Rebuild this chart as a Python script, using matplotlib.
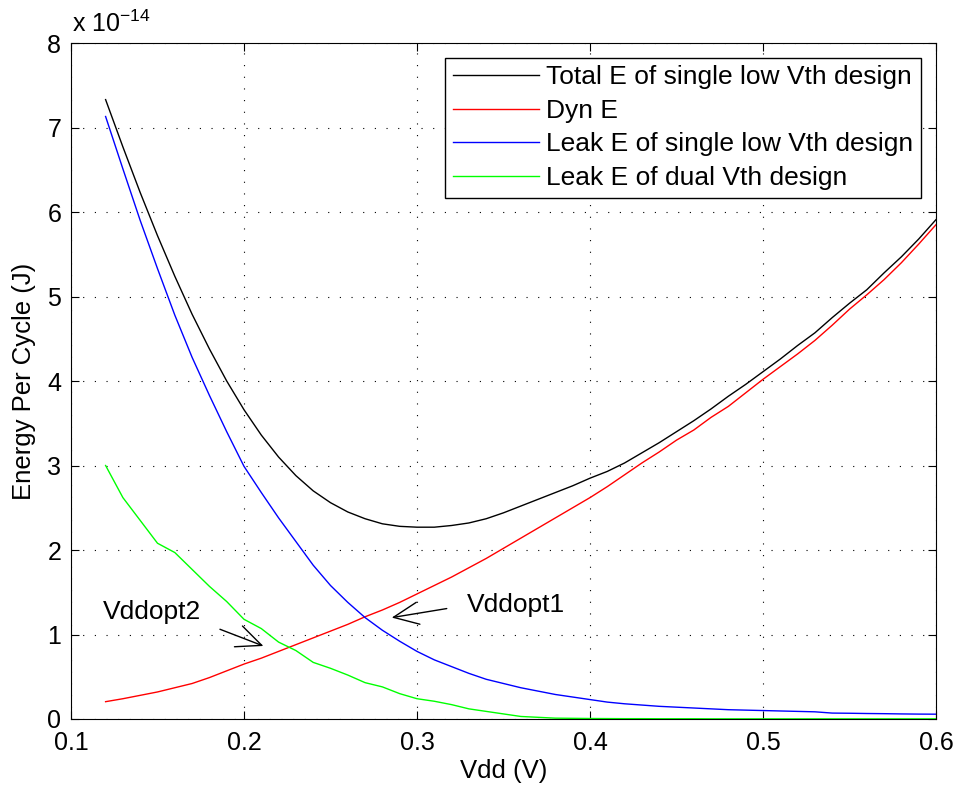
import numpy as np
import matplotlib
matplotlib.use("Agg")
import matplotlib.pyplot as plt

plt.rcParams['font.family'] = ['Liberation Sans', 'DejaVu Sans']
plt.rcParams['mathtext.fontset'] = 'custom'
plt.rcParams['mathtext.rm'] = 'Liberation Sans'

# supply voltage (V)
vdd = [0.12, 0.13, 0.14, 0.15, 0.16, 0.17, 0.18, 0.19, 0.20, 0.21,
       0.22, 0.23, 0.24, 0.25, 0.26, 0.27, 0.28, 0.29, 0.30, 0.31,
       0.32, 0.33, 0.34, 0.35, 0.36, 0.37, 0.38, 0.39, 0.40, 0.41,
       0.42, 0.43, 0.44, 0.45, 0.46, 0.47, 0.48, 0.49, 0.50, 0.51,
       0.52, 0.53, 0.54, 0.55, 0.56, 0.57, 0.58, 0.59, 0.60]

# energies in units of 1e-14 J
total_single = [7.33, 6.77, 6.23, 5.72, 5.24, 4.79, 4.38, 4.00, 3.66, 3.36,
                3.10, 2.88, 2.70, 2.56, 2.45, 2.37, 2.31, 2.28, 2.27, 2.27,
                2.29, 2.32, 2.37, 2.44, 2.52, 2.60, 2.68, 2.76, 2.85, 2.93,
                3.03, 3.15, 3.27, 3.40, 3.53, 3.67, 3.82, 3.96, 4.11, 4.26,
                4.42, 4.57, 4.75, 4.92, 5.08, 5.28, 5.47, 5.68, 5.91]
dyn = [0.205, 0.24, 0.28, 0.32, 0.37, 0.42, 0.49, 0.57, 0.65, 0.72,
       0.80, 0.88, 0.96, 1.04, 1.12, 1.21, 1.29, 1.38, 1.48, 1.58,
       1.68, 1.79, 1.90, 2.02, 2.14, 2.26, 2.38, 2.50, 2.62, 2.75,
       2.89, 3.03, 3.16, 3.30, 3.42, 3.57, 3.70, 3.86, 4.02, 4.17,
       4.32, 4.48, 4.66, 4.85, 5.02, 5.20, 5.40, 5.62, 5.85]
leak_single = [7.13, 6.51, 5.90, 5.33, 4.78, 4.28, 3.83, 3.40, 2.99, 2.68,
               2.38, 2.10, 1.82, 1.58, 1.38, 1.20, 1.05, 0.92, 0.80, 0.70,
               0.62, 0.54, 0.47, 0.42, 0.37, 0.33, 0.29, 0.26, 0.23, 0.20,
               0.18, 0.165, 0.15, 0.14, 0.13, 0.12, 0.11, 0.105, 0.10, 0.095,
               0.09, 0.085, 0.07, 0.068, 0.065, 0.063, 0.06, 0.058, 0.057]
leak_dual = [3.00, 2.62, 2.35, 2.08, 1.97, 1.77, 1.57, 1.39, 1.18, 1.07,
             0.91, 0.81, 0.67, 0.60, 0.52, 0.43, 0.38, 0.30, 0.24, 0.21,
             0.17, 0.12, 0.09, 0.06, 0.03, 0.02, 0.01, 0.008, 0.006, 0.005,
             0.004, 0.004, 0.003, 0.003, 0.003, 0.002, 0.002, 0.002, 0.002, 0.002,
             0.002, 0.002, 0.002, 0.002, 0.002, 0.002, 0.002, 0.002, 0.002]

labels = ['Total E of single low Vth design', 'Dyn E',
          'Leak E of single low Vth design', 'Leak E of dual Vth design']

fs_tick = 18
fs = 19
fig = plt.figure(figsize=(9.56, 7.92), dpi=100)
ax = fig.add_axes([71/956, 73/792, 865/956, 676/792])

ax.plot(vdd, total_single, color='black', lw=1.0, label=labels[0])
ax.plot(vdd, dyn, color=(1, 0, 0), lw=1.0, label=labels[1])
ax.plot(vdd, leak_single, color=(0, 0, 1), lw=1.0, label=labels[2])
ax.plot(vdd, leak_dual, color=(0, 1, 0), lw=1.0, label=labels[3])

ax.set_xlim(0.1, 0.6)
ax.set_ylim(0, 8)
ax.set_xticks([0.1, 0.2, 0.3, 0.4, 0.5, 0.6])
ax.set_xticklabels(['0.1', '0.2', '0.3', '0.4', '0.5', '0.6'])
ax.set_yticks(range(9))
ax.grid(True, color='black', linestyle=(0, (1, 9.5)), linewidth=0.8)
ax.tick_params(direction='in', length=6, width=0.8, top=True, right=True,
               labelsize=fs_tick)
ax.tick_params(axis='x', pad=8.5)
ax.tick_params(axis='y', pad=7)
for s in ax.spines.values():
    s.set_linewidth(0.8)

ax.set_xlabel('Vdd (V)', fontsize=18.5, labelpad=3)
ax.set_ylabel('Energy Per Cycle (J)', fontsize=18.5, labelpad=8)

fig.text(72/956, 1 - 32/792, r'x 10$^{\mathregular{-14}}$', fontsize=fs_tick,
         va='baseline', ha='left')

leg = ax.legend(loc='upper right', fontsize=fs, frameon=True, fancybox=False,
                edgecolor='black', framealpha=1, borderaxespad=0.55,
                handlelength=3.25, handletextpad=0.3, labelspacing=0.36,
                borderpad=0.3)
leg.get_frame().set_linewidth(1.0)

# annotations for the optimum supply voltages
arrow = dict(arrowstyle='->, head_length=0.9, head_width=0.4', lw=1.0,
             color='black', shrinkA=0, shrinkB=0, mutation_scale=20)
ax.annotate('', xy=(0.2854, 1.20), xytext=(0.3172, 1.307), arrowprops=arrow)
ax.text(0.3287, 1.35, 'Vddopt1', fontsize=fs, ha='left', va='center')
ax.annotate('', xy=(0.2112, 0.864), xytext=(0.1861, 1.062), arrowprops=arrow)
ax.text(0.1187, 1.265, 'Vddopt2', fontsize=fs, ha='left', va='center')

fig.savefig('out.png', dpi=100)
